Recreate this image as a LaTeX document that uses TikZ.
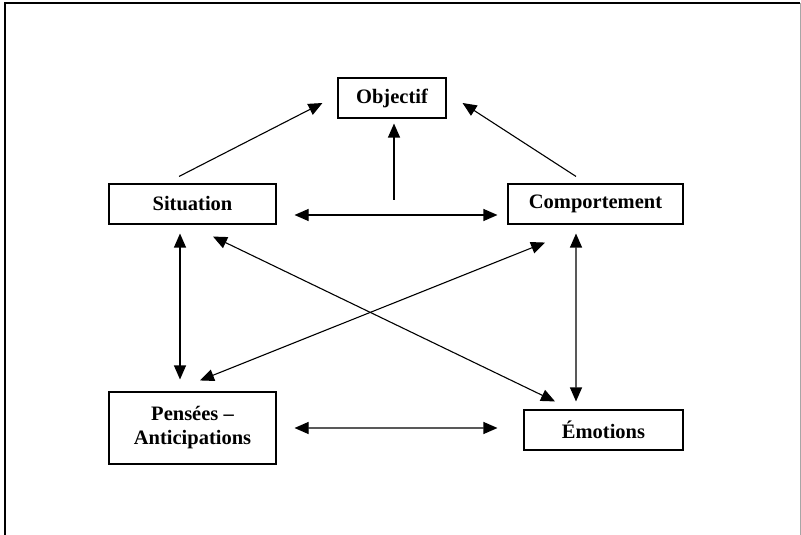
\documentclass[tikz,border=0pt]{standalone}
\usepackage{fontspec}
\setmainfont{Liberation Serif}
\usetikzlibrary{arrows.meta}
\begin{document}
\begin{tikzpicture}[x=1bp,y=-1bp,
  box/.style={draw,line width=1.1bp,inner sep=0pt,align=center,
    font=\fontsize{20.5bp}{24bp}\selectfont\bfseries},
  tip/.style={Triangle[length=14bp,width=12bp]},
  link/.style={line width=1.1bp,-{Triangle[length=14bp,width=12bp]}},
  both/.style={line width=1.1bp,{Triangle[length=14bp,width=12bp]}-{Triangle[length=14bp,width=12bp]}},
  frame/.style={line width=1.6bp}]
  \useasboundingbox (0,0) rectangle (801,535);
  % outer frame
  \draw[frame] (5,535) -- (5,3) -- (800,3);
  \draw[line width=1bp,black!35] (800,3) -- (800,535);

  % boxes
  \node[box,minimum width=108bp,minimum height=40bp] (obj) at (392,98) {Objectif};
  \node[box,minimum width=167bp,minimum height=40bp] (sit) at (192.5,204) {Situation};
  \node[box,minimum width=175bp,minimum height=40bp] (comp) at (595.5,204) {Comportement};
  \node[box,minimum width=167bp,minimum height=72bp] (pens) at (192.5,428) {Pensées –\\Anticipations};
  \node[box,minimum width=159bp,minimum height=40bp] (emo) at (603.5,430) {Émotions};

  % arrows toward the goal
  \draw[link] ([xshift=-13.5bp,yshift=7bp]sit.north) -- ([xshift=-15bp,yshift=-5bp]obj.west);
  \draw[link] ([xshift=-19.5bp,yshift=7bp]comp.north) -- ([xshift=16bp,yshift=-5bp]obj.east);
  \draw[link] ([xshift=2bp,yshift=-81bp]obj.south) -- ([xshift=2bp,yshift=-5bp]obj.south);

  % mutual links
  \draw[both] ([xshift=18bp,yshift=-11bp]sit.east) -- ([xshift=-10bp,yshift=-11bp]comp.west);
  \draw[both] ([xshift=-12.5bp,yshift=-9bp]sit.south) -- ([xshift=-12.5bp,yshift=12bp]pens.north);
  \draw[both] ([xshift=-19.5bp,yshift=-9bp]comp.south) -- ([xshift=-27.5bp,yshift=8bp]emo.north);
  \draw[both] ([xshift=20.5bp,yshift=-12bp]sit.south) -- ([xshift=-48.5bp,yshift=8bp]emo.north);
  \draw[both] ([xshift=7.5bp,yshift=11bp]pens.north) -- ([xshift=-50.5bp,yshift=-18bp]comp.south);
  \draw[both] ([xshift=18bp]pens.east) -- ([xshift=-26bp,yshift=2bp]emo.west);
\end{tikzpicture}
\end{document}
